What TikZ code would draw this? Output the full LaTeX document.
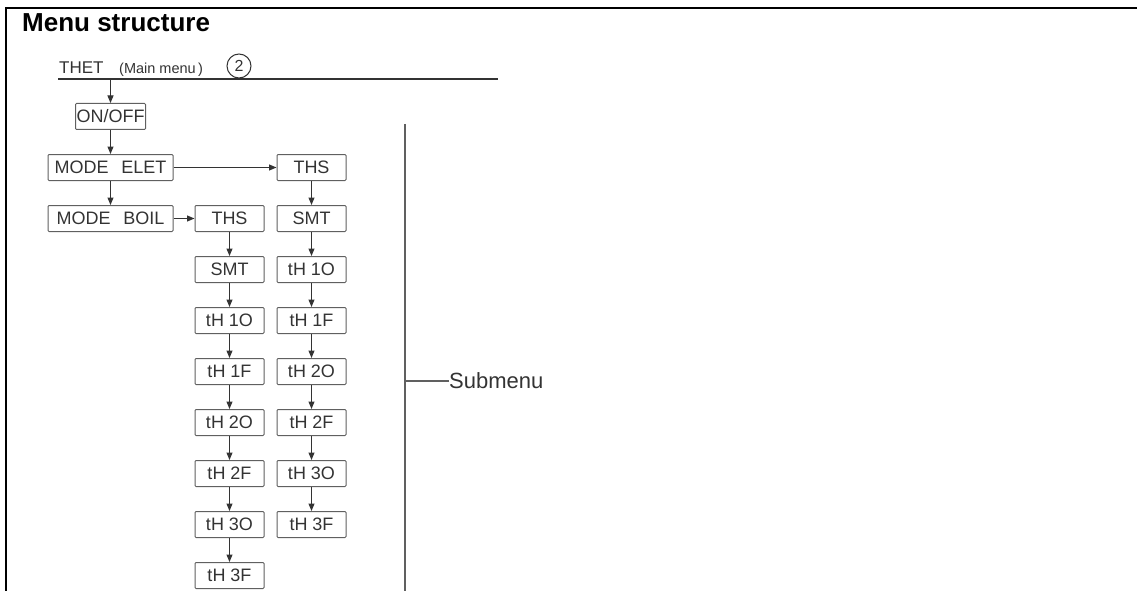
\documentclass[tikz,border=0pt]{standalone}
\usepackage{fontspec}
\setmainfont{Liberation Sans}
\usetikzlibrary{arrows.meta,positioning}
\definecolor{inkgray}{HTML}{333333}
\definecolor{linegray}{HTML}{606060}

\begin{document}
\begin{tikzpicture}[
    x=1pt, y=-1pt,
    node distance=24pt,
    box/.style={rectangle, rounded corners=1pt, draw=linegray, line width=1pt,
                minimum height=26pt, inner sep=0pt, text=inkgray,
                font=\fontsize{18}{21}\selectfont},
    menu/.style={box, minimum width=125pt},
    sub/.style={box, minimum width=69pt},
    arr/.style={-{Triangle[width=6pt,length=7.5pt]}, line width=1pt, draw=inkgray},
    lbl/.style={inner sep=0pt, text=inkgray},
]
\useasboundingbox (0,0) rectangle (1137,591);

%% Rahmen und Titel
\draw[line width=2.4pt] (5.8,591) -- (5.8,7.8) -- (1137,7.8);
\node[anchor=base west, inner sep=0pt, font=\fontsize{26}{31}\selectfont\bfseries]
      (title) at (22,32) {Menu structure};

%% Hauptmenue
\node[lbl, anchor=base west, font=\fontsize{17}{20}\selectfont] (thet) at (59,74) {THET};
\node[lbl, anchor=base west, font=\fontsize{14.5}{17}\selectfont] (mainmenu) at (119,74) {(Main menu\,)};
\node[circle, draw=inkgray, line width=1pt, minimum size=24pt, inner sep=0pt,
      text=inkgray, font=\fontsize{16}{19}\selectfont] (num) at (239,66) {2};
\draw[line width=1.4pt, draw=inkgray] (58,79) -- (498,79);
\coordinate (mainline) at (110.5,79);

\node[box, minimum width=70pt] (onoff) at (110.5,116.5) {ON/OFF};
\node[menu, below=of onoff] (elet) {MODE\hspace{0.7em}ELET};
\node[menu, below=of elet]  (boil) {MODE\hspace{0.7em}BOIL};

%% Untermenue MODE BOIL
\node[sub, right=21pt of boil] (b-ths) {THS};
\node[sub, below=of b-ths] (b-smt) {SMT};
\node[sub, below=of b-smt] (b-1o)  {tH 1O};
\node[sub, below=of b-1o]  (b-1f)  {tH 1F};
\node[sub, below=of b-1f]  (b-2o)  {tH 2O};
\node[sub, below=of b-2o]  (b-2f)  {tH 2F};
\node[sub, below=of b-2f]  (b-3o)  {tH 3O};
\node[sub, below=of b-3o]  (b-3f)  {tH 3F};

%% Untermenue MODE ELET
\node[sub, right=103pt of elet] (e-ths) {THS};
\node[sub, below=of e-ths] (e-smt) {SMT};
\node[sub, below=of e-smt] (e-1o)  {tH 1O};
\node[sub, below=of e-1o]  (e-1f)  {tH 1F};
\node[sub, below=of e-1f]  (e-2o)  {tH 2O};
\node[sub, below=of e-2o]  (e-2f)  {tH 2F};
\node[sub, below=of e-2f]  (e-3o)  {tH 3O};
\node[sub, below=of e-3o]  (e-3f)  {tH 3F};

\draw[arr] (mainline) -- (onoff);
\foreach \a/\b in {onoff/elet, elet/boil,
                   b-ths/b-smt, b-smt/b-1o, b-1o/b-1f, b-1f/b-2o, b-2o/b-2f, b-2f/b-3o, b-3o/b-3f,
                   e-ths/e-smt, e-smt/e-1o, e-1o/e-1f, e-1f/e-2o, e-2o/e-2f, e-2f/e-3o, e-3o/e-3f}
  \draw[arr] (\a) -- (\b);
\draw[arr] (elet) -- (e-ths);
\draw[arr] (boil) -- (b-ths);

%% Klammer Submenu
\coordinate (brtop) at (405,124);
\coordinate (brbot) at (405,591);
\draw[line width=1.2pt, draw=linegray] (brtop) -- (brbot);
\node[lbl, anchor=west, font=\fontsize{22}{26}\selectfont] (submenu) at (449,381) {Submenu};
\draw[line width=1.2pt, draw=linegray] (submenu.west) -- (submenu.west -| brtop);

\end{tikzpicture}
\end{document}
